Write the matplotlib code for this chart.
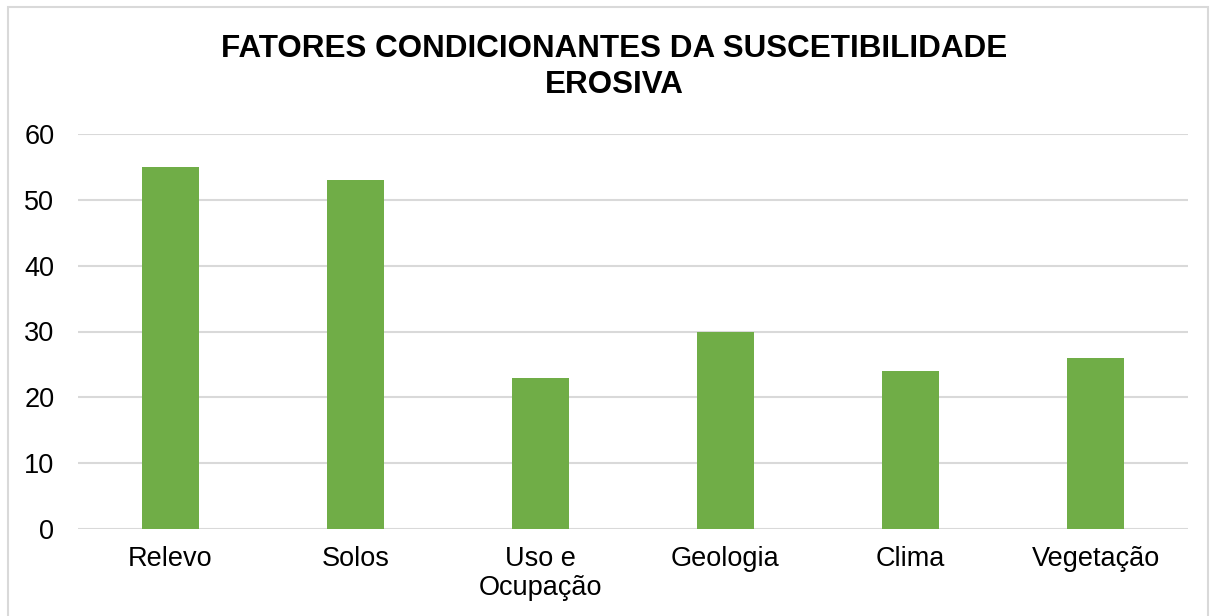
import matplotlib.pyplot as plt
import matplotlib.patches as patches

categories = ["Relevo", "Solos", "Uso e\nOcupação", "Geologia", "Clima", "Vegetação"]
values = [55, 53, 23, 30, 24, 26]

plt.rcParams["font.family"] = ["Liberation Sans", "DejaVu Sans"]

fig = plt.figure(figsize=(12.16, 6.16), dpi=100)
ax = fig.add_axes([78 / 1216, 1 - 529 / 616, 1110 / 1216, 395 / 616])

x = range(len(categories))
ax.bar(x, values, width=0.31, color="#70AD47", zorder=3)

ax.set_xlim(-0.5, len(categories) - 0.5)
ax.set_ylim(0, 60)
ax.set_yticks(range(0, 61, 10))
ax.set_xticks(list(x))
ax.set_xticklabels(categories, fontsize=19.5, linespacing=1.15)
ax.tick_params(axis="y", length=0, labelsize=19.5, pad=17)
ax.tick_params(axis="x", length=0, pad=12)
ax.grid(axis="y", color="#D9D9D9", linewidth=1.5, zorder=0)
for s in ax.spines.values():
    s.set_visible(False)

fig.text(614 / 1216, 1 - 67 / 616, "FATORES CONDICIONANTES DA SUSCETIBILIDADE\nEROSIVA",
         ha="center", va="center", fontsize=22.6, fontweight="bold", linespacing=1.3)

frame = patches.Rectangle((8 / 1216, -0.05), 1200 / 1216, 1.05 - 7 / 616,
                          transform=fig.transFigure, fill=False,
                          edgecolor="#D9D9D9", linewidth=1.5)
fig.patches.append(frame)

fig.savefig("out.png", dpi=100)
